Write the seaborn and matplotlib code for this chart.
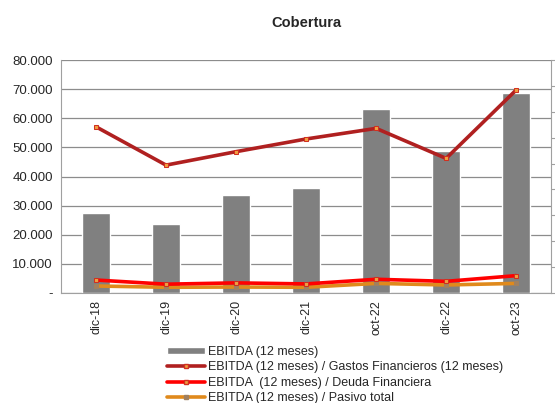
import matplotlib
matplotlib.use('Agg')
import matplotlib.pyplot as plt
import matplotlib.ticker as mticker
import seaborn as sns
import pandas as pd
from matplotlib.patches import Patch
from matplotlib.lines import Line2D

# Datos
periodos = ['dic-18', 'dic-19', 'dic-20', 'dic-21', 'oct-22', 'dic-22', 'oct-23']
ebitda = [27600, 23700, 33500, 36200, 63100, 48800, 68800]
cob_gastos = [6.42, 4.94, 5.46, 5.95, 6.36, 5.20, 7.84]
cob_deuda = [0.50, 0.34, 0.39, 0.35, 0.53, 0.45, 0.67]
cob_pasivo = [0.27, 0.22, 0.23, 0.22, 0.37, 0.31, 0.37]

labels = ['EBITDA (12 meses)',
          'EBITDA (12 meses) / Gastos Financieros (12 meses)',
          'EBITDA  (12 meses) / Deuda Financiera',
          'EBITDA (12 meses) / Pasivo total']

sns.set_style('white')
plt.rcParams['font.family'] = ['Liberation Sans', 'DejaVu Sans']

df = pd.DataFrame({'periodo': periodos, 'ebitda': ebitda,
                   'gastos': cob_gastos, 'deuda': cob_deuda, 'pasivo': cob_pasivo})

fig = plt.figure(figsize=(5.55, 4.03), dpi=100)
ax = fig.add_axes([0.110, 0.273, 0.883, 0.578])

sns.barplot(data=df, x='periodo', y='ebitda', color='#808080', width=0.4,
            saturation=1, ax=ax, zorder=2)
ax.set_ylim(0, 80000)
ax.yaxis.set_major_locator(mticker.MultipleLocator(10000))
ax.yaxis.set_major_formatter(mticker.FuncFormatter(
    lambda v, p: '-' if v == 0 else f'{int(v):,}'.replace(',', '.')))
ax.grid(axis='y', color='#8c8c8c', linewidth=0.9, zorder=0)
ax.set_axisbelow(True)
ax.set_xlabel('')
ax.set_ylabel('')
ax.tick_params(axis='y', labelsize=9.5, length=0, pad=6)
ax.tick_params(axis='x', labelsize=9, rotation=90, length=0, pad=5)
for s in ['left', 'right', 'bottom', 'top']:
    ax.spines[s].set_color('#a0a0a0')
    ax.spines[s].set_linewidth(0.8)
ax.spines['top'].set_visible(False)

ax2 = ax.twinx()
sns.lineplot(x=range(len(periodos)), y=cob_gastos, color='#b02020', linewidth=2.6,
             marker='s', markersize=3.5, markerfacecolor='#f0a040',
             markeredgecolor='#d03020', ax=ax2, zorder=4)
sns.lineplot(x=range(len(periodos)), y=cob_deuda, color='#ff0000', linewidth=2.6,
             marker='s', markersize=3.5, markerfacecolor='#f0a040',
             markeredgecolor='#d03020', ax=ax2, zorder=4)
sns.lineplot(x=range(len(periodos)), y=cob_pasivo, color='#e08a1c', linewidth=2.6,
             marker='s', markersize=2.5, markerfacecolor='#a08060',
             markeredgecolor='#a08060', ax=ax2, zorder=3)
ax2.set_ylim(0, 9)
ax2.yaxis.set_major_locator(mticker.MultipleLocator(1))
ax2.tick_params(axis='y', direction='out', length=3, width=0.8, color='#a0a0a0',
                labelright=False)
for s in ax2.spines.values():
    s.set_visible(False)
ax.set_xlim(-0.5, len(periodos) - 0.5)

fig.text(0.552, 0.944, 'Cobertura', ha='center', va='center', fontsize=10.5, fontweight='bold')

# Leyenda
handles = [
    Patch(facecolor='#808080'),
    Line2D([], [], color='#b02020', linewidth=2.6, marker='s', markersize=3.5,
           markerfacecolor='#f0a040', markeredgecolor='#d03020'),
    Line2D([], [], color='#ff0000', linewidth=2.6, marker='s', markersize=3.5,
           markerfacecolor='#f0a040', markeredgecolor='#d03020'),
    Line2D([], [], color='#e08a1c', linewidth=2.6, marker='s', markersize=2.5,
           markerfacecolor='#a08060', markeredgecolor='#a08060'),
]
fig.legend(handles, labels, loc='upper left', bbox_to_anchor=(0.290, 0.158),
           frameon=False, fontsize=9, handlelength=3.0, handleheight=0.5,
           handletextpad=0.3, labelspacing=0.28, borderpad=0)

plt.savefig('out.png', dpi=100)
